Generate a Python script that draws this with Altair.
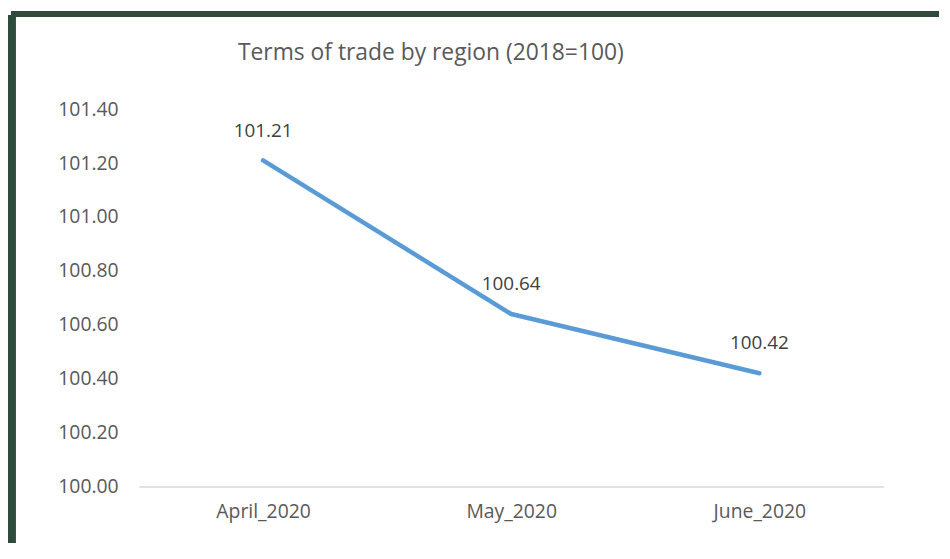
import altair as alt
import pandas as pd

months = ["April_2020", "May_2020", "June_2020"]
values = [101.21, 100.64, 100.42]
y_ticks = [100.0, 100.2, 100.4, 100.6, 100.8, 101.0, 101.2, 101.4]
title_text = "Terms of trade by region (2018=100)"

df = pd.DataFrame({"month": months, "value": values})
one = pd.DataFrame({"k": [0]})

FONT = "Open Sans"
GREEN = "#2F4B3B"

x_enc = alt.X(
    "month:N",
    sort=months,
    title=None,
    scale=alt.Scale(type="point", padding=0.5),
    axis=alt.Axis(
        labelAngle=0,
        ticks=False,
        grid=False,
        domainColor="#D9D9D9",
        domainWidth=1.5,
        labelColor="#595959",
        labelFont=FONT,
        labelFontSize=19.5,
        labelPadding=16,
    ),
)
y_enc = alt.Y(
    "value:Q",
    title=None,
    scale=alt.Scale(domain=[100.0, 101.4], nice=False, zero=False),
    axis=alt.Axis(
        values=y_ticks,
        format=".2f",
        ticks=False,
        domain=False,
        grid=False,
        labelColor="#595959",
        labelFont=FONT,
        labelFontSize=19.5,
        labelPadding=21,
    ),
)

base = alt.Chart(df)

line = base.mark_line(color="#5B9BD5", strokeWidth=4.5, strokeCap="round", strokeJoin="round").encode(
    x=x_enc, y=y_enc
)

labels = base.mark_text(
    dy=-30, baseline="middle", align="center", font=FONT, fontSize=19, color="#404040"
).encode(x=alt.X("month:N", sort=months), y="value:Q", text=alt.Text("value:Q", format=".2f"))

title = alt.Chart(one).mark_text(
    font=FONT, fontSize=23, color="#595959", align="center", baseline="alphabetic"
).encode(x=alt.value(294), y=alt.value(-50), text=alt.value(title_text))

left_border = alt.Chart(one).mark_rule(color=GREEN, strokeWidth=8, strokeCap="butt").encode(
    x=alt.value(-128), y=alt.value(-95), y2=alt.value(437)
)
top_border = alt.Chart(one).mark_rule(color=GREEN, strokeWidth=6, strokeCap="butt").encode(
    x=alt.value(-129), x2=alt.value(806), y=alt.value(-96)
)

chart = (
    alt.layer(line, labels, title, left_border, top_border)
    .properties(width=750, height=380, padding={"left": 0, "top": 1, "right": 0, "bottom": 0}, background="white")
    .configure_view(strokeWidth=0)
)

chart.save("out.html", embed_options={"renderer": "svg", "actions": False})
